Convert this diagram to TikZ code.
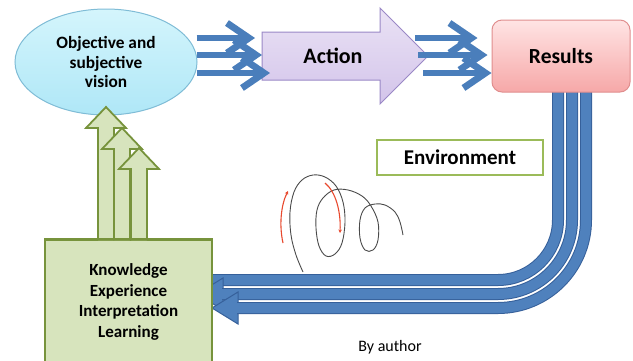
\documentclass[tikz,border=0pt]{standalone}
\usepackage{fontspec}
\setmainfont{Carlito}
\usetikzlibrary{arrows.meta,calc,shapes.geometric}

\definecolor{visfillA}{HTML}{D4F5FC}
\definecolor{visfillB}{HTML}{AFE7F7}
\definecolor{visline}{HTML}{7FBCD6}
\definecolor{actfillA}{HTML}{EAE2F5}
\definecolor{actfillB}{HTML}{D3C4EA}
\definecolor{actline}{HTML}{9A88C6}
\definecolor{resfillA}{HTML}{FFE4E4}
\definecolor{resfillB}{HTML}{F6A8A8}
\definecolor{resline}{HTML}{E08E8E}
\definecolor{kfill}{HTML}{D7E4BD}
\definecolor{kline}{HTML}{77933C}
\definecolor{envline}{HTML}{9BBB59}
\definecolor{flowblue}{HTML}{4A7EBB}
\definecolor{bandfill}{HTML}{4F81BD}
\definecolor{banddark}{HTML}{36609A}
\definecolor{coilgrey}{HTML}{4A4A4A}
\definecolor{arcred}{HTML}{E8492E}

\begin{document}
\begin{tikzpicture}[x=1pt,y=-1pt,
  every node/.style={inner sep=0pt, align=center, text=black},
  flow/.style={flowblue, line width=6.8pt,
    -{Straight Barb[length=22pt,width=30pt]}},
  greenarrow/.style={fill=kfill, draw=kline, line width=1.8pt, line join=miter},
  headtip/.style={fill=bandfill, draw=banddark, line width=1pt, line join=miter},
  spinarc/.style={arcred, line width=1.1pt, -{Stealth[length=3.5pt,width=3.5pt]}}]
\useasboundingbox (0,0) rectangle (633,360);

% feedback bands from the results back to the knowledge box
\foreach \x/\y/\t/\r in {558/280/183/60, 572/294/197/74, 586/308/212/88}{
  \fill[headtip] (\t,\y) -- (\t+26,\y-16) -- (\t+26,\y+16) -- cycle;
  \draw[banddark, line width=12pt, rounded corners=\r pt]
    (\x,88) -- (\x,\y) -- (\t+25,\y);
  \draw[bandfill, line width=10pt, rounded corners=\r pt]
    (\x,87) -- (\x,\y) -- (\t+25,\y);
}

% vision
\node[ellipse, minimum width=182pt, minimum height=106pt,
      top color=visfillA, bottom color=visfillB, draw=visline, line width=1pt,
      font=\bfseries\fontsize{17.3}{19.5}\selectfont] (vis) at (106,62)
  {Objective and\\subjective\\vision};

% action block arrow
\draw[top color=actfillA, bottom color=actfillB, draw=actline, line width=1pt]
  (262,32) -- (380,32) -- (380,8) -- (428,56) -- (380,104) -- (380,80)
  -- (262,80) -- cycle;
\node[font=\bfseries\fontsize{22}{24}\selectfont] (act) at (333,56) {Action};

% results
\node[rectangle, rounded corners=10pt, minimum width=138pt, minimum height=72pt,
      top color=resfillA, bottom color=resfillB, draw=resline, line width=1pt,
      font=\bfseries\fontsize{21.5}{24}\selectfont] (res) at (561,56) {Results};

% flows vision -> action -> results
\draw[flow] ([shift={(-1pt,24pt)}]vis.east) -- (255,38);
\draw[flow] ([shift={(-1pt,7pt)}]vis.east) -- (262,55);
\draw[flow] ([shift={(-1pt,-11pt)}]vis.east) -- (270,73);
\draw[flow] (415,38) -- ([shift={(-14pt,18pt)}]res.west);
\draw[flow] (418,55) -- ([shift={(-4pt,1pt)}]res.west);
\draw[flow] (423,73) -- ([shift={(0pt,-17pt)}]res.west);

% knowledge box
\node[rectangle, minimum width=167pt, minimum height=124pt,
      fill=kfill, draw=kline, line width=1.8pt,
      font=\bfseries\fontsize{17}{20.5}\selectfont] (know) at (128.5,302)
  {Knowledge\\Experience\\Interpretation\\Learning};

% rising arrows from knowledge to vision
\foreach \c/\t in {106/107, 122/128, 139/148}{
  \draw[greenarrow] (\c-8,240) -- (\c-8,\t+21) -- (\c-20,\t+21) -- (\c,\t)
    -- (\c+20,\t+21) -- (\c+8,\t+21) -- (\c+8,240);
}
\draw[kline, line width=1.8pt] (know.north west) -- (know.north east);

% environment
\node[rectangle, minimum width=166pt, minimum height=35pt, fill=white,
      draw=envline, line width=2.5pt,
      font=\bfseries\fontsize{21}{24}\selectfont] (env) at (460,157.5) {Environment};

% coil
\draw[coilgrey, line width=0.9pt] plot[smooth, tension=0.6] coordinates {
  (303,272) (296,255) (291,235) (290,212) (294,192) (302,180) (313,175)
  (325,177) (336,186) (343,202) (345,222) (342,243) (335,254) (326,256)
  (319,246) (316,228) (317,210) (323,198) (334,190) (348,190) (362,196)
  (371,206) (378,222) (378,240) (373,250) (365,250) (360,238) (360,220)
  (365,208) (375,204) (385,205) (395,212) (400,222) (403,235)};
\draw[spinarc] (283,243) .. controls (279,225) and (281,205) .. (288,191);
\draw[spinarc] (325,183) .. controls (336,192) and (341,212) .. (340,233);

\node[font=\fontsize{16}{18}\selectfont] (by) at (390,347) {By author};
\end{tikzpicture}
\end{document}
